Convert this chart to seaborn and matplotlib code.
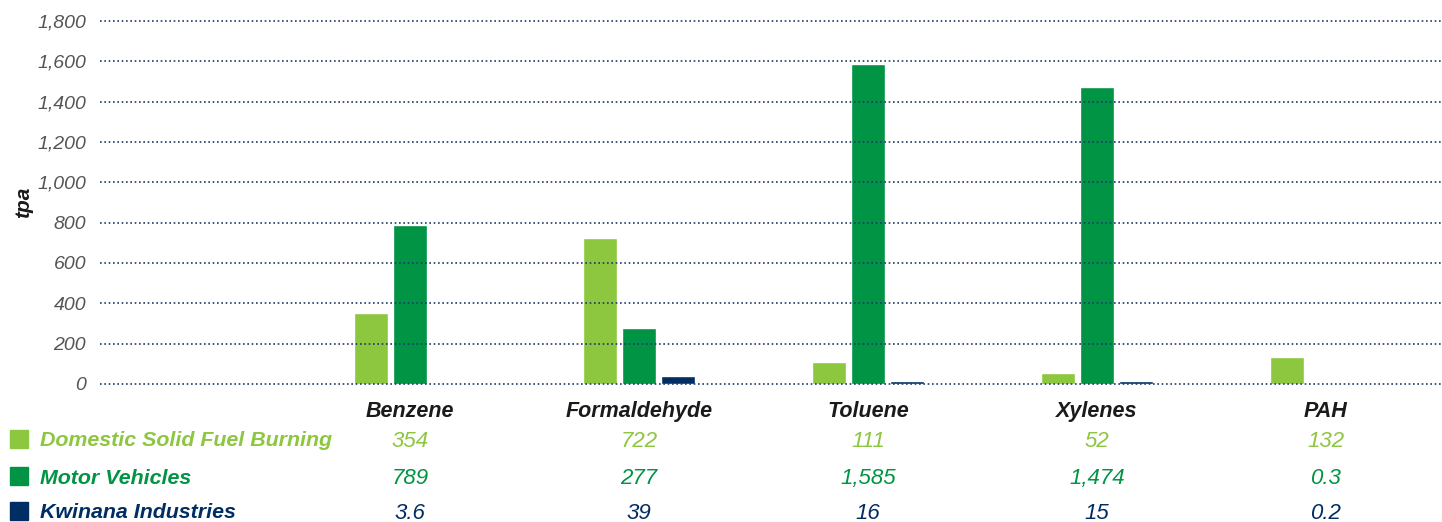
import matplotlib
matplotlib.use("Agg")
import matplotlib.pyplot as plt
from matplotlib.patches import Rectangle
import matplotlib.transforms as mtransforms
import pandas as pd
import seaborn as sns

# Pollutant categories and emission sources (tonnes per annum)
pollutants = ["Benzene", "Formaldehyde", "Toluene", "Xylenes", "PAH"]
sources = ["Domestic Solid Fuel Burning", "Motor Vehicles", "Kwinana Industries"]
domestic = [354, 722, 111, 52, 132]
motor = [789, 277, 1585, 1474, 0.3]
kwinana = [3.6, 39, 16, 15, 0.2]
y_ticks = [0, 200, 400, 600, 800, 1000, 1200, 1400, 1600, 1800]

colors = ["#8DC63F", "#009444", "#002D62"]
source_values = [domestic, motor, kwinana]

rows = []
for src, vals in zip(sources, source_values):
    for pol, v in zip(pollutants, vals):
        rows.append({"pollutant": pol, "source": src, "tpa": v})
df = pd.DataFrame(rows)

sns.set_theme(style="white")
plt.rcParams["font.family"] = ["Liberation Sans", "DejaVu Sans"]

W, H = 1442, 522
fig = plt.figure(figsize=(W / 100, H / 100), dpi=100)
ax_left, ax_right = 100 / W, 1.0
ax_bottom = 1 - 386 / H
ax_top = 1 - 19 / H
ax = fig.add_axes([ax_left, ax_bottom, ax_right - ax_left, ax_top - ax_bottom])

order = [""] + pollutants  # leading blank slot holds the table's row labels
sns.barplot(data=df, x="pollutant", y="tpa", hue="source", order=order,
            hue_order=sources, palette=colors, width=0.51, gap=0.13,
            saturation=1, legend=False, ax=ax, errorbar=None)

ax.set_xlim(-0.354, 5.507)
ax.set_ylim(-10, 1810)
ax.set_yticks(y_ticks)
ax.set_yticklabels([f"{t:,}" for t in y_ticks], fontsize=14,
                   fontstyle="italic", color="#555555")
ax.tick_params(axis="y", length=0, pad=10)
ax.set_xticks(range(len(order)))
ax.set_xticklabels(order, fontsize=15.5, fontweight="bold",
                   fontstyle="italic", color="#1a1a1a")
ax.tick_params(axis="x", length=0, pad=11)
ax.set_xlabel("")
ax.set_ylabel("tpa", fontsize=15, fontweight="bold", fontstyle="italic",
              color="#1a1a1a", labelpad=3)
for s in ax.spines.values():
    s.set_visible(False)

ax.yaxis.grid(True, color="#1F3A6B", linestyle=(0, (1, 1.6)), linewidth=1.2)
ax.xaxis.grid(False)
ax.set_axisbelow(False)


def fmt(v):
    return f"{int(v):,}" if float(v).is_integer() else f"{v}"


# Data table beneath the chart
row_y = [439, 476, 511]
trans = mtransforms.blended_transform_factory(ax.transData, fig.transFigure)
for src, vals, col, ypx in zip(sources, source_values, colors, row_y):
    yf = 1 - ypx / H
    fig.patches.append(Rectangle((10 / W, yf - 9 / H), 18 / W, 18 / H,
                                 transform=fig.transFigure, color=col))
    fig.text(40 / W, yf, src, fontsize=15.4, fontweight="bold",
             fontstyle="italic", color=col, va="center_baseline", ha="left")
    for i, v in enumerate(vals):
        ax.text(i + 1, yf, fmt(v), transform=trans, fontsize=16,
                fontstyle="italic", color=col, va="center_baseline",
                ha="center", clip_on=False)

fig.savefig("out.png", dpi=100)
